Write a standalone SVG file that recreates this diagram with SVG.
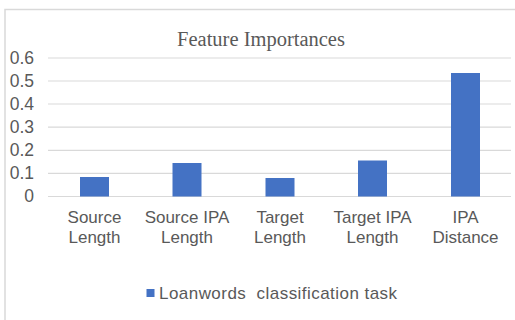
<svg xmlns="http://www.w3.org/2000/svg" width="515" height="320" viewBox="0 0 515 320">
  <style>
    .frame { stroke: #d9d9d9; stroke-width: 1.5; fill: none; }
    .grid { stroke: #d9d9d9; stroke-width: 1.2; }
    .bar { fill: #4472c4; }
    .tick { font-family: "Liberation Sans", Arial, sans-serif; font-size: 17.5px; fill: #595959; text-anchor: end; }
    .cat { font-family: "Liberation Sans", Arial, sans-serif; font-size: 17px; fill: #595959; text-anchor: middle; }
    .title { font-family: "Liberation Serif", "Times New Roman", serif; font-size: 20.5px; fill: #595959; text-anchor: middle; }
    .legend { font-family: "Liberation Sans", Arial, sans-serif; font-size: 17px; fill: #595959; white-space: pre; }
  </style>
  <rect width="515" height="320" fill="#ffffff"/>
  <!-- chart frame: top and left edges -->
  <path class="frame" d="M5 320 V9.5 H515"/>

  <text class="title" x="261" y="45.5">Feature Importances</text>

  <!-- value axis gridlines and ticks -->
  <g id="axis">
    <line class="grid" x1="48" y1="58" x2="511" y2="58"/>
    <line class="grid" x1="48" y1="81" x2="511" y2="81"/>
    <line class="grid" x1="48" y1="104" x2="511" y2="104"/>
    <line class="grid" x1="48" y1="127.2" x2="511" y2="127.2"/>
    <line class="grid" x1="48" y1="150.3" x2="511" y2="150.3"/>
    <line class="grid" x1="48" y1="173.4" x2="511" y2="173.4"/>
    <line class="grid" x1="48" y1="196.5" x2="511" y2="196.5"/>
    <text class="tick" x="34" y="64">0.6</text>
    <text class="tick" x="34" y="87">0.5</text>
    <text class="tick" x="34" y="110">0.4</text>
    <text class="tick" x="34" y="133">0.3</text>
    <text class="tick" x="34" y="156">0.2</text>
    <text class="tick" x="34" y="179">0.1</text>
    <text class="tick" x="34" y="202">0</text>
  </g>

  <!-- bars -->
  <g id="bar-source-length">
    <rect class="bar" x="80" y="177" width="29" height="19.5"/>
    <text class="cat" x="94.5" y="223">Source</text>
    <text class="cat" x="94.5" y="243">Length</text>
  </g>
  <g id="bar-source-ipa-length">
    <rect class="bar" x="172.5" y="163" width="29" height="33.5"/>
    <text class="cat" x="187" y="223">Source IPA</text>
    <text class="cat" x="187" y="243">Length</text>
  </g>
  <g id="bar-target-length">
    <rect class="bar" x="265.5" y="178" width="29" height="18.5"/>
    <text class="cat" x="280" y="223">Target</text>
    <text class="cat" x="280" y="243">Length</text>
  </g>
  <g id="bar-target-ipa-length">
    <rect class="bar" x="358" y="160.5" width="29" height="36"/>
    <text class="cat" x="372.5" y="223">Target IPA</text>
    <text class="cat" x="372.5" y="243">Length</text>
  </g>
  <g id="bar-ipa-distance">
    <rect class="bar" x="451" y="73" width="29" height="123.5"/>
    <text class="cat" x="465.5" y="223">IPA</text>
    <text class="cat" x="465.5" y="243">Distance</text>
  </g>

  <!-- legend -->
  <g id="legend">
    <rect class="bar" x="146.5" y="289" width="8" height="8"/>
    <text class="legend" x="159" y="299" textLength="238" lengthAdjust="spacing">Loanwords  classification task</text>
  </g>
</svg>
